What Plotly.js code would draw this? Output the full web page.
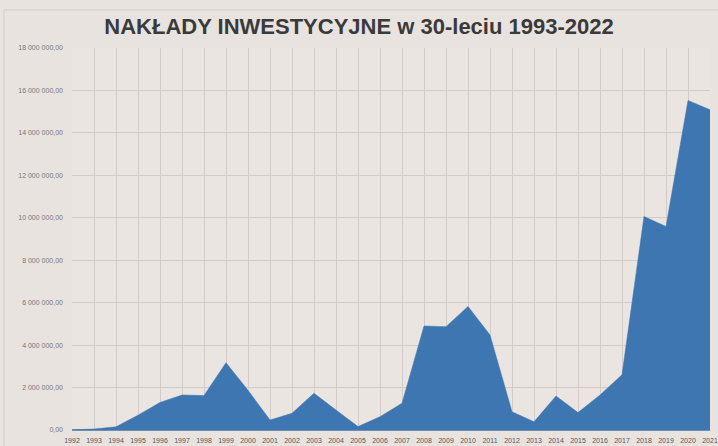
<!DOCTYPE html>
<html>
<head>
<meta charset="utf-8">
<script src="https://cdn.plot.ly/plotly-3.0.1.min.js"></script>
<style>
html,body{margin:0;padding:0;background:#e9e3e0;}
#chart{width:718px;height:446px;}
</style>
</head>
<body>
<div id="chart"></div>
<script>
const years = [1992,1993,1994,1995,1996,1997,1998,1999,2000,2001,2002,2003,2004,2005,2006,2007,2008,2009,2010,2011,2012,2013,2014,2015,2016,2017,2018,2019,2020,2021];
const yearLabels = years.map(String);
const values = [0,50000,150000,700000,1300000,1650000,1620000,3170000,1870000,470000,790000,1730000,940000,160000,630000,1260000,4900000,4870000,5820000,4480000,860000,390000,1600000,820000,1650000,2600000,10060000,9590000,15530000,15090000];
const yTickVals = [0,2000000,4000000,6000000,8000000,10000000,12000000,14000000,16000000,18000000];
const yTickText = ["0,00","2 000 000,00","4 000 000,00","6 000 000,00","8 000 000,00","10 000 000,00","12 000 000,00","14 000 000,00","16 000 000,00","18 000 000,00"];
const titleText = "NAKŁADY INWESTYCYJNE w 30-leciu 1993-2022";

const trace = {
  x: years, y: values, type: 'scatter', mode: 'lines',
  fill: 'tozeroy', fillcolor: '#3d76b0',
  line: {color: '#3d76b0', width: 0.5},
  hoverinfo: 'skip'
};

const layout = {
  width: 718, height: 446,
  paper_bgcolor: '#e9e3e0', plot_bgcolor: '#ebe5e2',
  margin: {l: 72, r: 8, t: 48, b: 16},
  showlegend: false,
  title: {
    text: titleText, x: 0.5, xref: 'container', xanchor: 'center',
    y: 0.942, yref: 'container', yanchor: 'middle',
    font: {family: 'Liberation Sans, Arial, sans-serif', size: 22, color: '#3a3a3a', weight: 'bold'}
  },
  xaxis: {
    type: 'linear', range: [1992, 2021],
    tickvals: years, ticktext: yearLabels,
    showgrid: true, gridcolor: '#d3cbc7', gridwidth: 1,
    zeroline: false, showline: false, ticks: '',
    tickfont: {family: 'Liberation Sans, Arial, sans-serif', size: 7, color: '#555'},
    ticklabelstandoff: 5, fixedrange: true
  },
  yaxis: {
    range: [0, 18000000],
    tickvals: yTickVals, ticktext: yTickText,
    showgrid: true, gridcolor: '#d3cbc7', gridwidth: 1,
    zeroline: true, zerolinecolor: '#6f8fb0', zerolinewidth: 1.5,
    showline: false, ticks: '',
    tickfont: {family: 'Liberation Sans, Arial, sans-serif', size: 7, color: '#777'},
    ticklabelstandoff: 8, fixedrange: true
  },
  shapes: [{
    type: 'rect', xref: 'paper', yref: 'paper',
    x0: -0.1066, x1: 1.05, y0: -0.2, y1: 1.0995,
    line: {color: '#d3cbc7', width: 1}, layer: 'below'
  }]
};

Plotly.newPlot('chart', [trace], layout, {staticPlot: true, displayModeBar: false});
</script>
</body>
</html>
